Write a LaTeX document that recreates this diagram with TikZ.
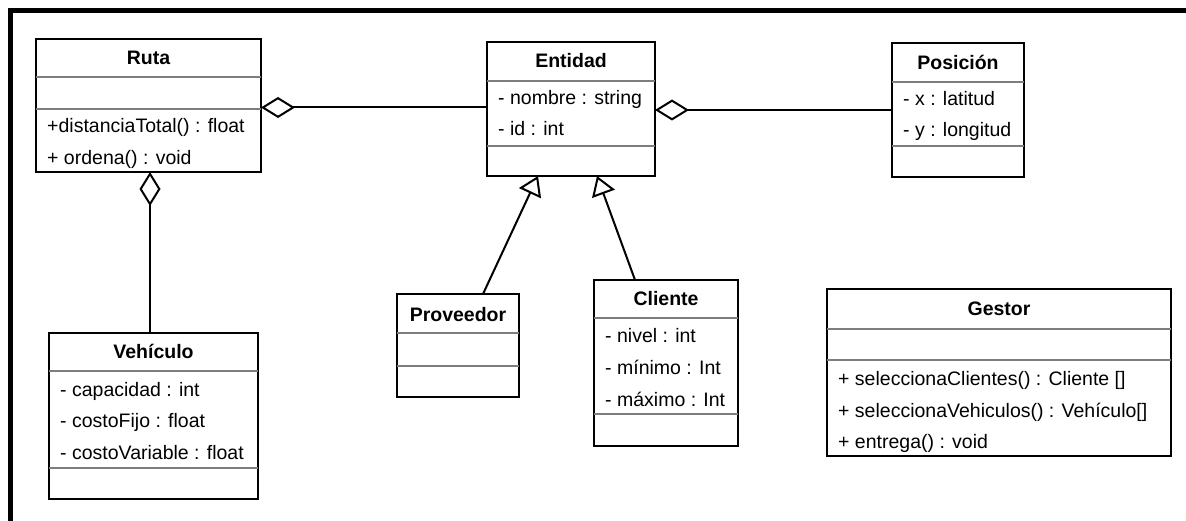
\documentclass[tikz,border=0pt]{standalone}
\usepackage{fontspec}
\setmainfont{Liberation Sans}
\usetikzlibrary{arrows.meta}
\definecolor{dividergray}{RGB}{125,125,125}

% class box: name, left, top, right, bottom (y grows downwards)
\newcommand\umlbox[5]{%
  \node[classbox, minimum width={#4-#2}, minimum height={#5-#3}] (#1) at (#2,#3) {};}

\begin{document}
\begin{tikzpicture}[x=1pt, y=-1pt,
  font=\fontsize{19.5}{23}\selectfont,
  classbox/.style={draw=black, line width=2pt, fill=white, inner sep=0pt,
                   outer sep=0pt, anchor=north west},
  divider/.style={draw=dividergray, line width=1.5pt},
  classtitle/.style={font=\fontsize{19.5}{23}\selectfont\bfseries, anchor=base, inner sep=0pt},
  member/.style={anchor=base west, inner sep=0pt},
  link/.style={line width=2pt, draw=black},
  aggr/.style={link, {Diamond[open, length=34pt, width=21pt, line width=2pt]}-},
  inherit/.style={link, -{Triangle[open, length=19pt, width=24pt, line width=2pt]}},
]
\useasboundingbox[fill=white] (0,0) rectangle (1186,521);

% outer frame (top and left edges)
\draw[line width=5pt] (10,521) -- (10,11) -- (1186,11);

% Ruta
\umlbox{ruta}{36}{39}{261}{172}
\draw[divider] (36,77) -- (261,77);
\draw[divider] (36,109) -- (261,109);
\node[classtitle] (ruta-t) at (148.5,65) {Ruta};
\node[member] (ruta-m1) at (47,133) {+distanciaTotal() : float};
\node[member] (ruta-m2) at (47,165) {+ ordena() : void};

% Entidad
\umlbox{entidad}{487}{42}{655}{176}
\draw[divider] (487,81) -- (655,81);
\draw[divider] (487,146) -- (655,146);
\node[classtitle] (entidad-t) at (571,68) {Entidad};
\node[member] (entidad-a1) at (498,105) {- nombre : string};
\node[member] (entidad-a2) at (498,136) {- id : int};

% Posición
\umlbox{posicion}{892}{43}{1024}{177}
\draw[divider] (892,82) -- (1024,82);
\draw[divider] (892,146) -- (1024,146);
\node[classtitle] (posicion-t) at (958,70) {Posición};
\node[member] (posicion-a1) at (903,106) {- x : latitud};
\node[member] (posicion-a2) at (903,137) {- y : longitud};

% Vehículo
\umlbox{vehiculo}{49}{333}{258}{499}
\draw[divider] (49,371) -- (258,371);
\draw[divider] (49,468) -- (258,468);
\node[classtitle] (vehiculo-t) at (153.5,359) {Vehículo};
\node[member] (vehiculo-a1) at (60,396) {- capacidad : int};
\node[member] (vehiculo-a2) at (60,427) {- costoFijo : float};
\node[member] (vehiculo-a3) at (60,459) {- costoVariable : float};

% Proveedor
\umlbox{proveedor}{397}{294}{519}{397}
\draw[divider] (397,333) -- (519,333);
\draw[divider] (397,366) -- (519,366);
\node[classtitle] (proveedor-t) at (458,321) {Proveedor};

% Cliente
\umlbox{cliente}{594}{280}{738}{446}
\draw[divider] (594,318) -- (738,318);
\draw[divider] (594,414) -- (738,414);
\node[classtitle] (cliente-t) at (666,306) {Cliente};
\node[member] (cliente-a1) at (605,342) {- nivel : int};
\node[member] (cliente-a2) at (605,374) {- mínimo : Int};
\node[member] (cliente-a3) at (605,406) {- máximo : Int};

% Gestor
\umlbox{gestor}{827}{289}{1171}{456}
\draw[divider] (827,329) -- (1171,329);
\draw[divider] (827,360) -- (1171,360);
\node[classtitle] (gestor-t) at (999,316) {Gestor};
\node[member] (gestor-m1) at (838,385) {+ seleccionaClientes() : Cliente []};
\node[member] (gestor-m2) at (838,417) {+ seleccionaVehiculos() : Vehículo[]};
\node[member] (gestor-m3) at (838,448) {+ entrega() : void};

% aggregations
\draw[aggr] ([yshift=1.5pt]ruta.east |- entidad.west) -- ([yshift=1.5pt]entidad.west);
\draw[aggr] (entidad.east |- posicion.west) -- (posicion.west);
\draw[aggr] ([xshift=1.5pt]ruta.south) -- ([xshift=1.5pt]ruta.south |- vehiculo.north);

% generalizations
\draw[inherit] ([xshift=25pt]proveedor.north) -- ([xshift=-33pt]entidad.south);
\draw[inherit] ([xshift=-31pt]cliente.north) -- ([xshift=26pt]entidad.south);
\end{tikzpicture}
\end{document}
